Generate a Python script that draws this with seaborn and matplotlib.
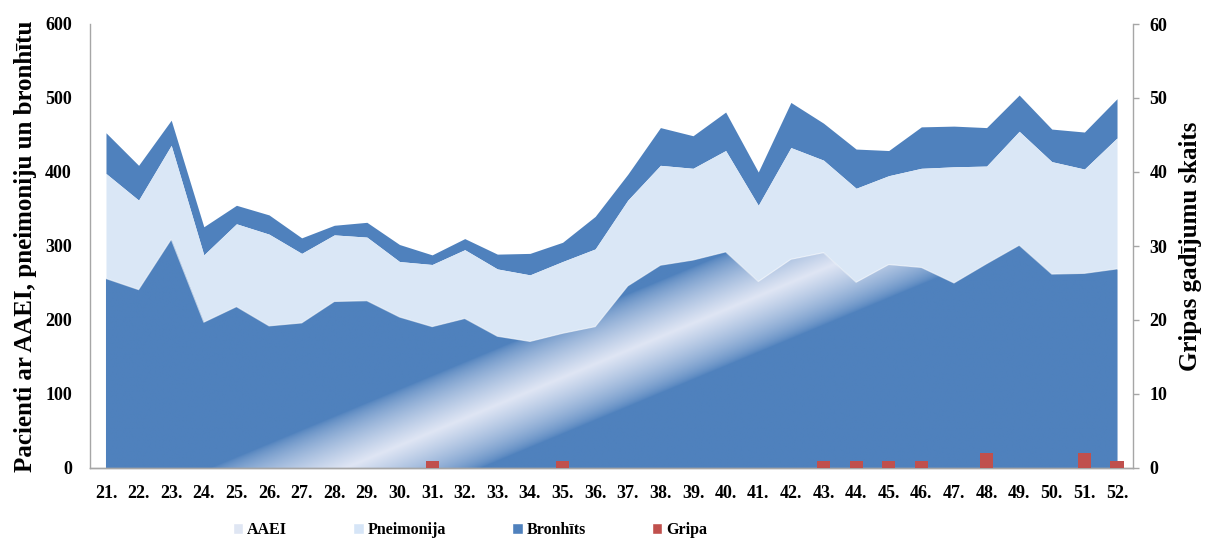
import numpy as np
import pandas as pd
import matplotlib
matplotlib.use("Agg")
import matplotlib.pyplot as plt
from matplotlib.colors import to_rgb
from matplotlib.patches import Patch
import seaborn as sns

# nedēļas
weeks = ["21.", "22.", "23.", "24.", "25.", "26.", "27.", "28.", "29.", "30.",
         "31.", "32.", "33.", "34.", "35.", "36.", "37.", "38.", "39.", "40.",
         "41.", "42.", "43.", "44.", "45.", "46.", "47.", "48.", "49.", "50.",
         "51.", "52."]

# stacked area series (patients)
aaei = [256, 241, 309, 197, 218, 192, 196, 225, 226, 204,
        191, 202, 178, 171, 182, 191, 246, 274, 281, 292,
        252, 282, 291, 251, 275, 271, 250, 276, 301, 262,
        263, 269]
pneimonija = [142, 121, 127, 91, 112, 124, 94, 90, 86, 75,
              84, 93, 91, 90, 97, 105, 116, 135, 124, 137,
              103, 151, 125, 127, 120, 134, 157, 132, 154, 152,
              141, 177]
bronhits = [55, 47, 34, 38, 25, 26, 21, 13, 20, 23,
            13, 15, 20, 29, 26, 44, 35, 51, 44, 52,
            45, 61, 50, 53, 34, 56, 55, 52, 49, 44,
            50, 53]
# influenza cases (right axis)
gripa = [0, 0, 0, 0, 0, 0, 0, 0, 0, 0,
         1, 0, 0, 0, 1, 0, 0, 0, 0, 0,
         0, 0, 1, 1, 1, 1, 0, 2, 0, 0,
         2, 1]

BLUE = "#4f81bd"
LIGHT = "#dae7f6"
RED = "#c0504d"
GRAY = "#a6a6a6"

sns.set_theme(style="white")
plt.rcParams['font.family'] = ['Liberation Serif', 'DejaVu Serif']
plt.rcParams['font.weight'] = 'bold'
plt.rcParams['text.color'] = 'black'
plt.rcParams['axes.labelcolor'] = 'black'
plt.rcParams['xtick.labelcolor'] = 'black'
plt.rcParams['ytick.labelcolor'] = 'black'

fig = plt.figure(figsize=(12.08, 5.39), dpi=100)
ax = fig.add_axes([90/1208, 1-468/539, (1133-90)/1208, (468-24)/539])

x = np.arange(len(weeks))
lvl1 = np.array(aaei)
lvl2 = lvl1 + np.array(pneimonija)
lvl3 = lvl2 + np.array(bronhits)

ax.fill_between(x, lvl2, lvl3, color=BLUE, lw=0, zorder=1)
ax.fill_between(x, lvl1, lvl2, color=LIGHT, lw=0, zorder=1)
base = ax.fill_between(x, 0, lvl1, color=BLUE, lw=0, zorder=1)

# diagonal light band on the AAEI area
xmin, xmax = -0.49, len(weeks) - 0.51
gx, gy = np.meshgrid(np.linspace(xmin, xmax, 1200), np.linspace(0, 600, 600))
px = 106 + gx * 32.6
py = 468 - gy * 0.74
d = (px - 358) * 0.385 + (py - 463) * 0.923
t = np.clip(1 - np.abs(d) / 52, 0, 1) ** 0.7
c0 = np.array(to_rgb(BLUE))
c1 = np.array([0.875, 0.9, 0.957])
img = c0[None, None, :] * (1 - t[..., None]) + c1[None, None, :] * t[..., None]
im = ax.imshow(img, extent=(xmin, xmax, 0, 600), origin='lower', aspect='auto',
               interpolation='bilinear', zorder=1.5)
im.set_clip_path(base.get_paths()[0], transform=ax.transData)
ax.plot(x, lvl1, color='white', lw=0.8, alpha=0.6, zorder=2)

ax.set_xlim(xmin, xmax)
ax.set_ylim(0, 600)
ax.set_yticks(range(0, 601, 100))
ax.set_ylabel("Pacienti ar AAEI, pneimoniju un bronhītu", fontsize=18,
              fontweight='bold', labelpad=6)

# influenza bars on secondary axis
ax2 = ax.twinx()
df = pd.DataFrame({"Nedēļa": weeks, "Gripa": gripa})
sns.barplot(data=df, x="Nedēļa", y="Gripa", order=weeks, color=RED,
            saturation=1, width=0.4, errorbar=None, linewidth=0,
            edgecolor='none', ax=ax2, zorder=3)
ax2.set_ylim(0, 60)
ax2.set_yticks(range(0, 61, 10))
ax2.set_xlabel("")
ax2.set_ylabel("Gripas gadījumu skaits", fontsize=18, fontweight='bold',
               labelpad=8)

ax.set_xlim(xmin, xmax)
ax.set_xticks(x)
ax.set_xticklabels(weeks)

for a in (ax, ax2):
    for s in a.spines.values():
        s.set_color(GRAY)
        s.set_linewidth(1)
    a.spines['top'].set_visible(False)
ax.spines['right'].set_visible(False)
ax2.spines['left'].set_visible(False)
ax.tick_params(axis='y', length=0, pad=13, labelsize=13)
ax.tick_params(axis='x', length=0, pad=12, labelsize=13)
ax2.tick_params(axis='y', length=4, width=1, color=GRAY, pad=8, labelsize=13,
                direction='out')
for lab in ax.get_xticklabels() + ax.get_yticklabels() + ax2.get_yticklabels():
    lab.set_fontweight('bold')

handles = [Patch(facecolor="#dfe6f3", label="AAEI"),
           Patch(facecolor="#d6e5f7", label="Pneimonija"),
           Patch(facecolor=BLUE, label="Bronhīts"),
           Patch(facecolor=RED, label="Gripa")]
fig.legend(handles=handles, loc='center', bbox_to_anchor=(470/1208, 1-530/539),
           ncol=4, frameon=False, handlelength=0.65, handleheight=0.65,
           handletextpad=0.25, columnspacing=4.15,
           prop={'family': 'Liberation Serif', 'weight': 'bold', 'size': 11.5})

fig.savefig("out.png", dpi=100)
